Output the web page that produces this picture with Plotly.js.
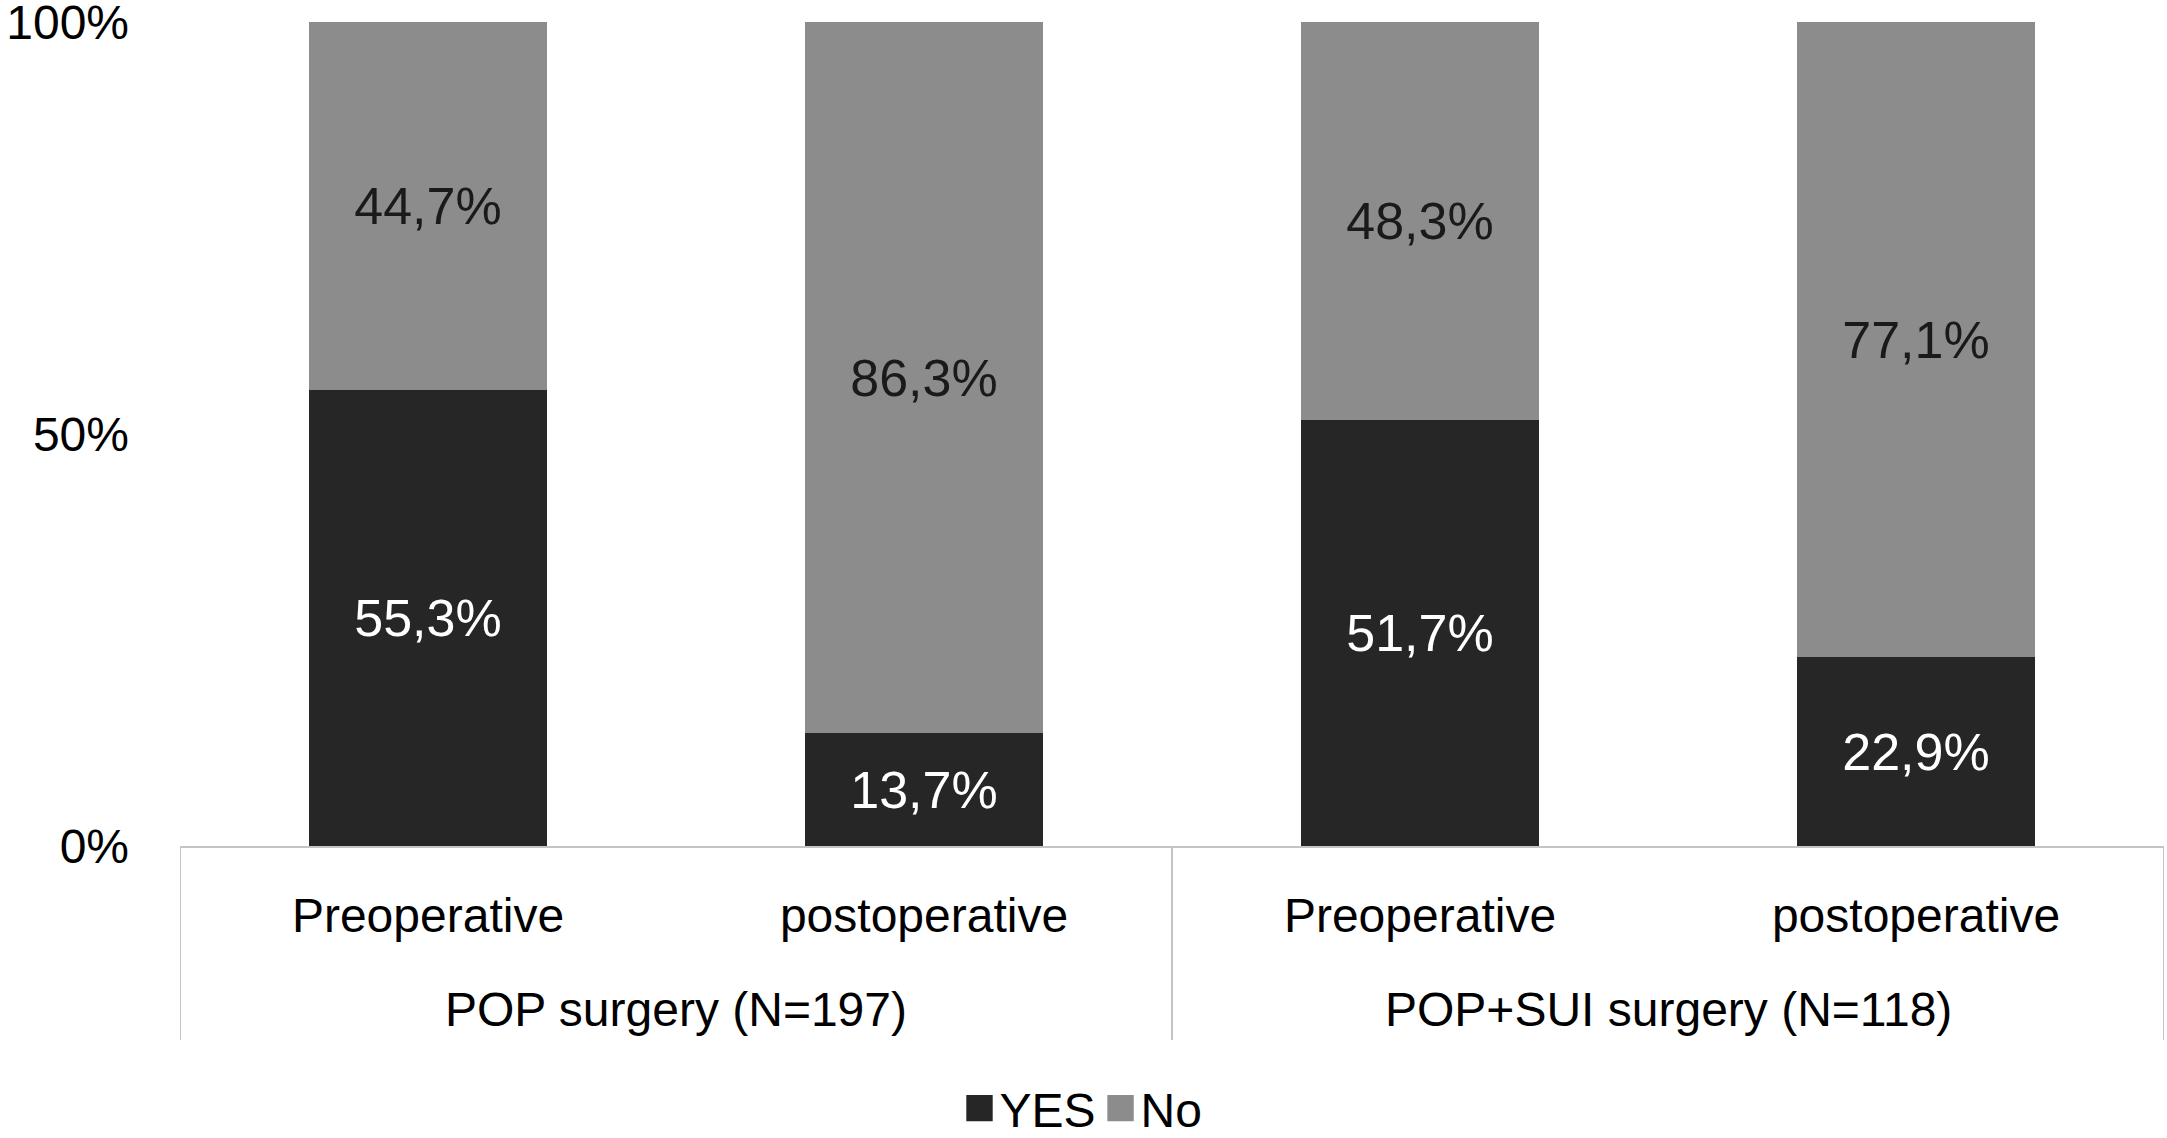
<!DOCTYPE html>
<html>
<head>
<meta charset="utf-8">
<script src="https://cdn.plot.ly/plotly-3.0.1.min.js"></script>
<style>
  html, body { margin: 0; padding: 0; background: #ffffff; }
  #chart { width: 2167px; height: 1138px; }
</style>
</head>
<body>
<div id="chart"></div>
<script>
// ---- data ----
const groups = ['POP surgery (N=197)', 'POP surgery (N=197)', 'POP+SUI surgery (N=118)', 'POP+SUI surgery (N=118)'];
const stages = ['Preoperative', 'postoperative', 'Preoperative', 'postoperative'];
const yesValues = [55.3, 13.7, 51.7, 22.9];
const noValues = [44.7, 86.3, 48.3, 77.1];
const seriesNames = ['YES', 'No'];
const yTickValues = [0, 50, 100];
const yTickLabels = ['0%', '50%', '100%'];

const fmt = v => v.toFixed(1).replace('.', ',') + '%';
const FONT = 'Liberation Sans, Arial, Helvetica, sans-serif';
const DARK = '#262626';
const GREY = '#8c8c8c';
const LINE = '#c4c4c4';

const idx = stages.map((_, i) => i);

// group spans (from the group array)
const groupNames = [...new Set(groups)];
const groupSpans = groupNames.map(g => {
  const ids = idx.filter(i => groups[i] === g);
  return { name: g, first: Math.min(...ids), last: Math.max(...ids) };
});

const traces = [
  {
    type: 'bar', name: seriesNames[0],
    x: idx, y: yesValues,
    text: yesValues.map(fmt), textposition: 'inside', insidetextanchor: 'middle',
    textfont: { family: FONT, size: 52, color: '#ffffff' },
    marker: { color: DARK }, hoverinfo: 'skip'
  },
  {
    type: 'bar', name: seriesNames[1],
    x: idx, y: noValues,
    text: noValues.map(fmt), textposition: 'inside', insidetextanchor: 'middle',
    textfont: { family: FONT, size: 52, color: '#1a1a1a' },
    marker: { color: GREY }, hoverinfo: 'skip'
  }
];

const annotations = groupSpans.map(s => ({
  xref: 'x', yref: 'paper',
  x: (s.first + s.last) / 2, y: -0.199,
  xanchor: 'center', yanchor: 'middle',
  text: s.name, showarrow: false,
  font: { family: FONT, size: 48, color: '#000000' }
}));

const dividerXs = [groupSpans[0].first - 0.5, ...groupSpans.map(s => s.last + 0.5)];
const shapes = dividerXs.map(xv => ({
  type: 'line', xref: 'x', yref: 'paper',
  x0: xv, x1: xv, y0: 0, y1: -0.2354,
  line: { color: LINE, width: 2 }
}));

const layout = {
  width: 2167, height: 1138,
  paper_bgcolor: '#ffffff', plot_bgcolor: '#ffffff',
  margin: { l: 180, r: 3, t: 22, b: 292 },
  barmode: 'stack', bargap: 0.52,
  font: { family: FONT, size: 48, color: '#000000' },
  xaxis: {
    range: [-0.5, stages.length - 0.5],
    tickvals: idx, ticktext: stages,
    showline: true, linecolor: LINE, linewidth: 2,
    ticks: '', showgrid: false, zeroline: false,
    ticklabelstandoff: 26,
    tickfont: { family: FONT, size: 48, color: '#000000' }
  },
  yaxis: {
    range: [0, 100], tickvals: yTickValues, ticktext: yTickLabels,
    showgrid: false, zeroline: false, showline: false, ticks: '',
    ticklabelstandoff: 50, ticklabeloverflow: 'allow',
    tickfont: { family: FONT, size: 48, color: '#000000' }
  },
  annotations: annotations,
  shapes: shapes,
  showlegend: true,
  legend: {
    orientation: 'h', traceorder: 'normal',
    xref: 'container', yref: 'container',
    x: 0.5, xanchor: 'center', y: 0.026, yanchor: 'middle',
    font: { family: FONT, size: 48, color: '#000000' },
    itemwidth: 30
  }
};

Plotly.newPlot('chart', traces, layout, { displayModeBar: false, staticPlot: true }).then(gd => {
  // enlarge the legend swatches to match the reference's larger squares
  gd.querySelectorAll('.legendpoints path').forEach(p => {
    const t = p.getAttribute('transform') || '';
    p.setAttribute('transform', t + ' scale(2.2)');
  });
});
</script>
</body>
</html>
